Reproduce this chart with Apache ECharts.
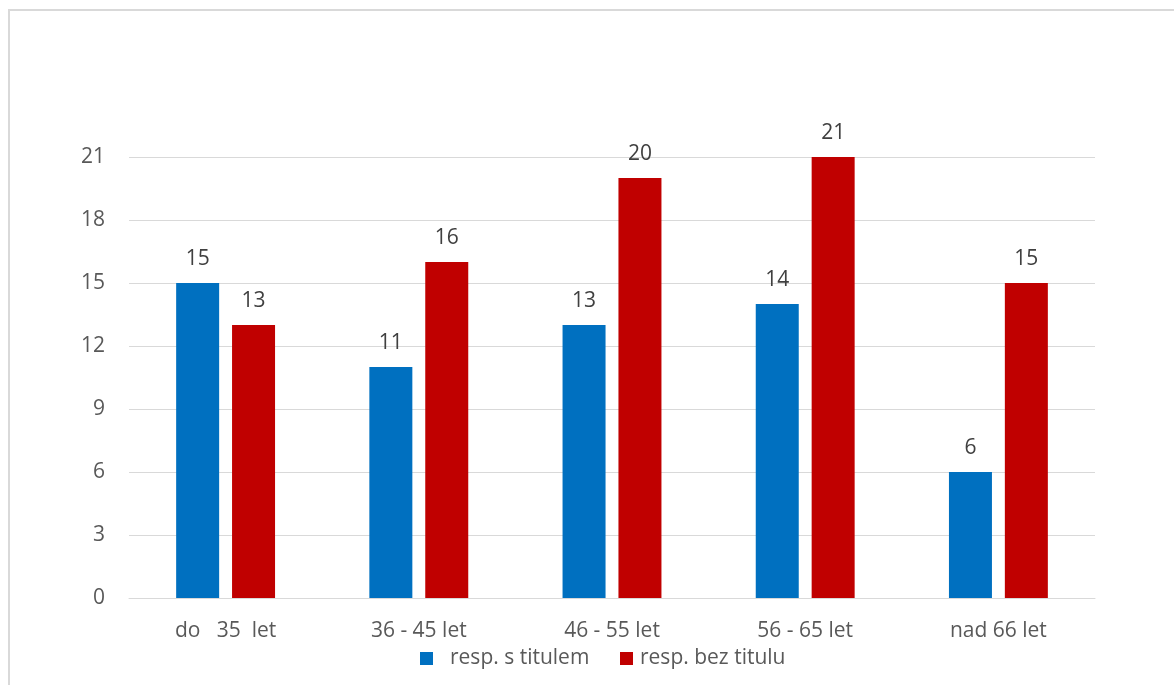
<!DOCTYPE html>
<html>
<head>
<meta charset="utf-8">
<script src="https://cdn.jsdelivr.net/npm/echarts@6/dist/echarts.min.js"></script>
<style>
  html, body { margin: 0; padding: 0; background: #fff; overflow: hidden; }
  #frame { position: absolute; left: 8px; top: 9px; width: 1200px; height: 720px;
           border: 2px solid #d9d9d9; box-sizing: border-box; }
  #chart { position: absolute; left: 0; top: 0; width: 1174px; height: 685px; }
</style>
</head>
<body>
<div id="frame"></div>
<div id="chart"></div>
<script>
// Age groups of respondents
const categories = ['do   35  let', '36 - 45 let', '46 - 55 let', '56 - 65 let', 'nad 66 let'];
const seriesNames = ['resp. s titulem', 'resp. bez titulu'];
const withTitle = [15, 11, 13, 14, 6];
const withoutTitle = [13, 16, 20, 21, 15];
const yTicks = { min: 0, max: 21, interval: 3 };

const FONT = '"Open Sans", Lato, sans-serif';
const FS = 21;
const chart = echarts.init(document.getElementById('chart'), null, { renderer: 'canvas' });

const labelStyle = {
  show: true, position: 'top', distance: 13,
  color: '#404040', fontSize: FS, fontFamily: FONT
};
const legendBase = {
  top: 648, padding: 0, icon: 'rect', itemWidth: 13, itemHeight: 13,
  textStyle: { color: '#595959', fontSize: FS, fontFamily: FONT }
};

chart.setOption({
  animation: false,
  textStyle: { fontFamily: FONT },
  grid: { left: 129, right: 79, top: 157, bottom: 87, containLabel: false },
  legend: [
    Object.assign({}, legendBase, {
      left: 420, data: [seriesNames[0]],
      textStyle: Object.assign({}, legendBase.textStyle, { padding: [0, 0, 0, 12] })
    }),
    Object.assign({}, legendBase, {
      left: 620, data: [seriesNames[1]],
      textStyle: Object.assign({}, legendBase.textStyle, { padding: [0, 0, 0, 2] })
    })
  ],
  xAxis: {
    type: 'category', data: categories,
    axisLine: { lineStyle: { color: '#d9d9d9', width: 1 } },
    axisTick: { show: false },
    axisLabel: { color: '#595959', fontSize: FS, fontFamily: FONT, margin: 23 }
  },
  yAxis: {
    type: 'value', min: yTicks.min, max: yTicks.max, interval: yTicks.interval,
    axisLine: { show: false }, axisTick: { show: false },
    splitLine: { lineStyle: { color: '#d9d9d9', width: 1 } },
    axisLabel: { color: '#595959', fontSize: FS, fontFamily: FONT, margin: 24 }
  },
  series: [
    {
      name: seriesNames[0], type: 'bar', data: withTitle,
      barWidth: 43, barGap: '30%', barCategoryGap: '49%',
      itemStyle: { color: '#0070c0' }, label: labelStyle
    },
    {
      name: seriesNames[1], type: 'bar', data: withoutTitle,
      barWidth: 43, barGap: '30%', barCategoryGap: '49%',
      itemStyle: { color: '#c00000' }, label: labelStyle
    }
  ]
});
</script>
</body>
</html>
